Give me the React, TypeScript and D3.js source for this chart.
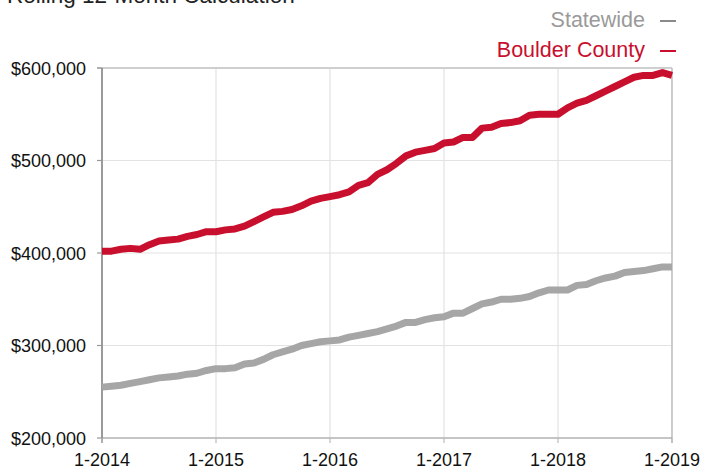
import React from "react";
import * as d3 from "d3";

const monthIndex: number[] = d3.range(0, 61);

const statewide: number[] = [
  255, 256, 257, 259, 261, 263, 265, 266, 267, 269, 270, 273,
  275, 275, 276, 280, 281, 285, 290, 293, 296, 300, 302, 304,
  305, 306, 309, 311, 313, 315, 318, 321, 325, 325, 328, 330,
  331, 335, 335, 340, 345, 347, 350, 350, 351, 353, 357, 360,
  360, 360, 365, 366, 370, 373, 375, 379, 380, 381, 383, 385,
  385,
].map((v) => v * 1000);

const boulder: number[] = [
  402, 402, 404, 405, 404, 409, 413, 414, 415, 418, 420, 423,
  423, 425, 426, 429, 434, 439, 444, 445, 447, 451, 456, 459,
  461, 463, 466, 473, 476, 485, 490, 497, 505, 509, 511, 513,
  519, 520, 525, 525, 535, 536, 540, 541, 543, 549, 550, 550,
  550, 557, 562, 565, 570, 575, 580, 585, 590, 592, 592, 595,
  592,
].map((v) => v * 1000);

const xTickLabels: string[] = ["1-2014", "1-2015", "1-2016", "1-2017", "1-2018", "1-2019"];
const xTickMonths: number[] = [0, 12, 24, 36, 48, 60];
const yTicks: number[] = [200000, 300000, 400000, 500000, 600000];

const seriesNames: string[] = ["Statewide", "Boulder County"];
const seriesColors: string[] = ["#a6a6a6", "#c8102e"];
const legendTextColors: string[] = ["#9a9a9a", "#c8102e"];

export default function App() {
  const W = 704;
  const H = 470;
  const left = 102;
  const right = 672;
  const top = 68;
  const bottom = 438;

  const x = d3.scaleLinear().domain([0, 60]).range([left, right]);
  const y = d3.scaleLinear().domain([200000, 600000]).range([bottom, top]);

  const line = d3
    .line<number>()
    .x((_, i) => x(monthIndex[i]))
    .y((d) => y(d));

  const font = "'Liberation Sans', Arial, Helvetica, sans-serif";
  const fmt = (v: number) => "$" + d3.format(",")(v);

  return (
    <svg
      width={W}
      height={H}
      style={{ position: "absolute", left: 0, top: 0, background: "#fff" }}
      fontFamily={font}
    >
      <text x={7} y={3} fontSize={22.5} fill="#222">
        Rolling 12-Month Calculation
      </text>

      {/* horizontal gridlines */}
      {yTicks.map((t) => (
        <line
          key={"hg" + t}
          x1={left}
          x2={right}
          y1={y(t)}
          y2={y(t)}
          stroke="#e2e2e2"
          strokeWidth={1.2}
        />
      ))}
      {/* vertical gridlines */}
      {xTickMonths.map((m) => (
        <line
          key={"vg" + m}
          x1={x(m)}
          x2={x(m)}
          y1={top}
          y2={bottom}
          stroke="#e2e2e2"
          strokeWidth={1.2}
        />
      ))}

      {/* frame */}
      <line x1={left - 5} x2={right} y1={top} y2={top} stroke="#c4c4c4" strokeWidth={1.6} />
      <line x1={right} x2={right} y1={top} y2={bottom + 5} stroke="#c4c4c4" strokeWidth={1.6} />
      <line x1={left} x2={right} y1={bottom} y2={bottom} stroke="#999" strokeWidth={1.2} />
      <line x1={left} x2={left} y1={top} y2={bottom + 5} stroke="#777" strokeWidth={1.4} />

      {/* y ticks */}
      {yTicks.map((t) => (
        <g key={"yt" + t}>
          <line x1={left - 5} x2={left} y1={y(t)} y2={y(t)} stroke="#999" strokeWidth={1.2} />
          <text x={86} y={y(t) + 6.5} fontSize={18} textAnchor="end" fill="#111">
            {fmt(t)}
          </text>
        </g>
      ))}

      {/* x ticks */}
      {xTickMonths.map((m, i) => (
        <g key={"xt" + m}>
          <line x1={x(m)} x2={x(m)} y1={bottom} y2={bottom + 5} stroke="#bbb" strokeWidth={1.2} />
          <text x={x(m)} y={466} fontSize={18} textAnchor="middle" fill="#111">
            {xTickLabels[i]}
          </text>
        </g>
      ))}

      {/* lines */}
      {[statewide, boulder].map((s, i) => (
        <path
          key={"s" + i}
          d={line(s) || ""}
          fill="none"
          stroke={seriesColors[i]}
          strokeWidth={7}
          strokeLinejoin="round"
          strokeLinecap="butt"
        />
      ))}

      {/* legend */}
      {seriesNames.map((n, i) => (
        <g key={"lg" + n}>
          <text x={645} y={27 + i * 30} fontSize={21.5} textAnchor="end" fill={legendTextColors[i]}>
            {n}
          </text>
          <line
            x1={660}
            x2={676}
            y1={21 + i * 30}
            y2={21 + i * 30}
            stroke={i === 0 ? "#8a8a8a" : seriesColors[i]}
            strokeWidth={2}
          />
        </g>
      ))}
    </svg>
  );
}
